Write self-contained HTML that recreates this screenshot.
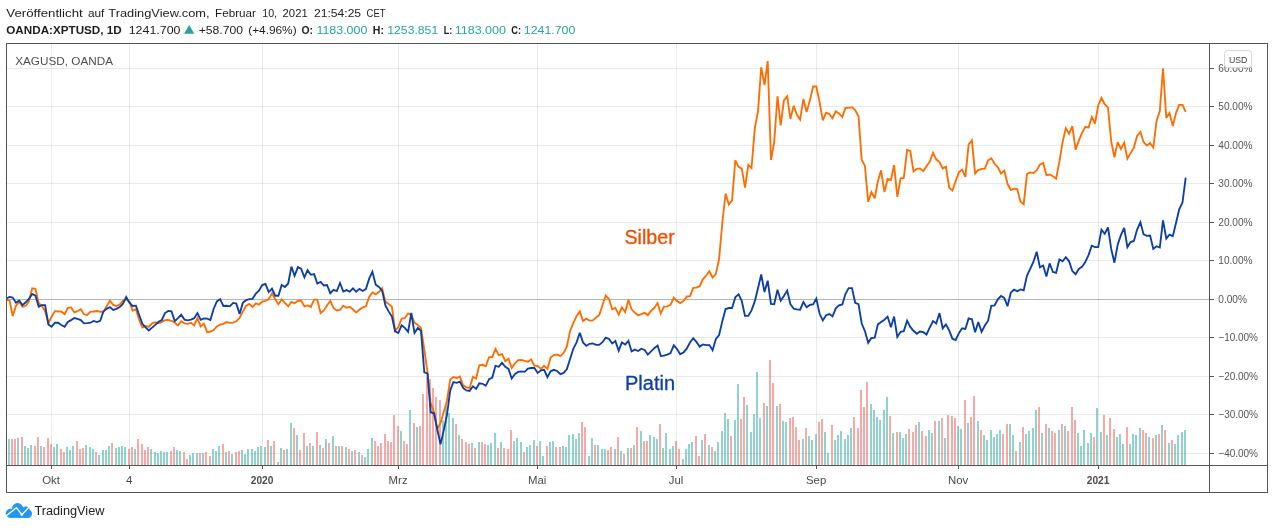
<!DOCTYPE html><html><head><meta charset="utf-8"><title>Chart</title><style>html,body{margin:0;padding:0;background:#fff}svg{display:block}text{font-family:"Liberation Sans",sans-serif}</style></head><body>
<svg width="1274" height="529" viewBox="0 0 1274 529">
<rect width="1274" height="529" fill="#fff"/>
<g shape-rendering="crispEdges">
<rect x="51" y="44" width="1" height="421" fill="#2a2e39" fill-opacity="0.1"/>
<rect x="129" y="44" width="1" height="421" fill="#2a2e39" fill-opacity="0.1"/>
<rect x="262" y="44" width="1" height="421" fill="#2a2e39" fill-opacity="0.1"/>
<rect x="398" y="44" width="1" height="421" fill="#2a2e39" fill-opacity="0.1"/>
<rect x="537" y="44" width="1" height="421" fill="#2a2e39" fill-opacity="0.1"/>
<rect x="676" y="44" width="1" height="421" fill="#2a2e39" fill-opacity="0.1"/>
<rect x="816" y="44" width="1" height="421" fill="#2a2e39" fill-opacity="0.1"/>
<rect x="958" y="44" width="1" height="421" fill="#2a2e39" fill-opacity="0.1"/>
<rect x="1098" y="44" width="1" height="421" fill="#2a2e39" fill-opacity="0.1"/>
<rect x="7" y="68" width="1202" height="1" fill="#2a2e39" fill-opacity="0.1"/>
<rect x="7" y="106" width="1202" height="1" fill="#2a2e39" fill-opacity="0.1"/>
<rect x="7" y="145" width="1202" height="1" fill="#2a2e39" fill-opacity="0.1"/>
<rect x="7" y="183" width="1202" height="1" fill="#2a2e39" fill-opacity="0.1"/>
<rect x="7" y="222" width="1202" height="1" fill="#2a2e39" fill-opacity="0.1"/>
<rect x="7" y="260" width="1202" height="1" fill="#2a2e39" fill-opacity="0.1"/>
<rect x="7" y="299" width="1202" height="1" fill="#b2b4bb"/>
<rect x="7" y="337" width="1202" height="1" fill="#2a2e39" fill-opacity="0.1"/>
<rect x="7" y="376" width="1202" height="1" fill="#2a2e39" fill-opacity="0.1"/>
<rect x="7" y="414" width="1202" height="1" fill="#2a2e39" fill-opacity="0.1"/>
<rect x="7" y="453" width="1202" height="1" fill="#2a2e39" fill-opacity="0.1"/>
</g>
<g shape-rendering="crispEdges">
<rect x="8" y="439" width="2" height="26" fill="#26a69a" fill-opacity="0.5"/>
<rect x="11" y="439" width="2" height="26" fill="#ef5350" fill-opacity="0.5"/>
<rect x="14" y="439" width="2" height="26" fill="#ef5350" fill-opacity="0.5"/>
<rect x="17" y="438" width="2" height="27" fill="#26a69a" fill-opacity="0.5"/>
<rect x="21" y="437" width="2" height="28" fill="#ef5350" fill-opacity="0.5"/>
<rect x="24" y="446" width="2" height="19" fill="#26a69a" fill-opacity="0.5"/>
<rect x="27" y="448" width="2" height="17" fill="#26a69a" fill-opacity="0.5"/>
<rect x="30" y="445" width="2" height="20" fill="#26a69a" fill-opacity="0.5"/>
<rect x="34" y="446" width="2" height="19" fill="#ef5350" fill-opacity="0.5"/>
<rect x="37" y="437" width="2" height="28" fill="#ef5350" fill-opacity="0.5"/>
<rect x="40" y="446" width="2" height="19" fill="#26a69a" fill-opacity="0.5"/>
<rect x="43" y="447" width="2" height="18" fill="#ef5350" fill-opacity="0.5"/>
<rect x="47" y="438" width="2" height="27" fill="#ef5350" fill-opacity="0.5"/>
<rect x="50" y="444" width="2" height="21" fill="#ef5350" fill-opacity="0.5"/>
<rect x="53" y="447" width="2" height="18" fill="#26a69a" fill-opacity="0.5"/>
<rect x="56" y="444" width="2" height="21" fill="#26a69a" fill-opacity="0.5"/>
<rect x="60" y="449" width="2" height="16" fill="#ef5350" fill-opacity="0.5"/>
<rect x="63" y="452" width="2" height="13" fill="#ef5350" fill-opacity="0.5"/>
<rect x="66" y="447" width="2" height="18" fill="#26a69a" fill-opacity="0.5"/>
<rect x="69" y="450" width="2" height="15" fill="#26a69a" fill-opacity="0.5"/>
<rect x="72" y="446" width="2" height="19" fill="#26a69a" fill-opacity="0.5"/>
<rect x="76" y="441" width="2" height="24" fill="#ef5350" fill-opacity="0.5"/>
<rect x="79" y="449" width="2" height="16" fill="#ef5350" fill-opacity="0.5"/>
<rect x="82" y="448" width="2" height="17" fill="#ef5350" fill-opacity="0.5"/>
<rect x="85" y="445" width="2" height="20" fill="#26a69a" fill-opacity="0.5"/>
<rect x="89" y="447" width="2" height="18" fill="#26a69a" fill-opacity="0.5"/>
<rect x="92" y="449" width="2" height="16" fill="#26a69a" fill-opacity="0.5"/>
<rect x="95" y="452" width="2" height="13" fill="#ef5350" fill-opacity="0.5"/>
<rect x="98" y="455" width="2" height="10" fill="#26a69a" fill-opacity="0.5"/>
<rect x="102" y="450" width="2" height="15" fill="#26a69a" fill-opacity="0.5"/>
<rect x="105" y="450" width="2" height="15" fill="#26a69a" fill-opacity="0.5"/>
<rect x="108" y="446" width="2" height="19" fill="#26a69a" fill-opacity="0.5"/>
<rect x="111" y="443" width="2" height="22" fill="#ef5350" fill-opacity="0.5"/>
<rect x="115" y="448" width="2" height="17" fill="#26a69a" fill-opacity="0.5"/>
<rect x="118" y="447" width="2" height="18" fill="#26a69a" fill-opacity="0.5"/>
<rect x="121" y="446" width="2" height="19" fill="#26a69a" fill-opacity="0.5"/>
<rect x="124" y="447" width="2" height="18" fill="#26a69a" fill-opacity="0.5"/>
<rect x="128" y="449" width="2" height="16" fill="#ef5350" fill-opacity="0.5"/>
<rect x="131" y="447" width="2" height="18" fill="#ef5350" fill-opacity="0.5"/>
<rect x="134" y="449" width="2" height="16" fill="#26a69a" fill-opacity="0.5"/>
<rect x="137" y="439" width="2" height="26" fill="#ef5350" fill-opacity="0.5"/>
<rect x="141" y="444" width="2" height="21" fill="#ef5350" fill-opacity="0.5"/>
<rect x="144" y="450" width="2" height="15" fill="#ef5350" fill-opacity="0.5"/>
<rect x="147" y="447" width="2" height="18" fill="#ef5350" fill-opacity="0.5"/>
<rect x="150" y="449" width="2" height="16" fill="#26a69a" fill-opacity="0.5"/>
<rect x="154" y="452" width="2" height="13" fill="#26a69a" fill-opacity="0.5"/>
<rect x="157" y="453" width="2" height="12" fill="#26a69a" fill-opacity="0.5"/>
<rect x="160" y="451" width="2" height="14" fill="#26a69a" fill-opacity="0.5"/>
<rect x="163" y="452" width="2" height="13" fill="#26a69a" fill-opacity="0.5"/>
<rect x="166" y="452" width="2" height="13" fill="#26a69a" fill-opacity="0.5"/>
<rect x="170" y="451" width="2" height="14" fill="#ef5350" fill-opacity="0.5"/>
<rect x="173" y="447" width="2" height="18" fill="#ef5350" fill-opacity="0.5"/>
<rect x="176" y="450" width="2" height="15" fill="#26a69a" fill-opacity="0.5"/>
<rect x="179" y="451" width="2" height="14" fill="#26a69a" fill-opacity="0.5"/>
<rect x="183" y="452" width="2" height="13" fill="#ef5350" fill-opacity="0.5"/>
<rect x="186" y="459" width="2" height="6" fill="#ef5350" fill-opacity="0.5"/>
<rect x="189" y="455" width="2" height="10" fill="#26a69a" fill-opacity="0.5"/>
<rect x="192" y="453" width="2" height="12" fill="#26a69a" fill-opacity="0.5"/>
<rect x="196" y="453" width="2" height="12" fill="#26a69a" fill-opacity="0.5"/>
<rect x="199" y="453" width="2" height="12" fill="#ef5350" fill-opacity="0.5"/>
<rect x="202" y="453" width="2" height="12" fill="#26a69a" fill-opacity="0.5"/>
<rect x="205" y="452" width="2" height="13" fill="#ef5350" fill-opacity="0.5"/>
<rect x="209" y="456" width="2" height="9" fill="#ef5350" fill-opacity="0.5"/>
<rect x="212" y="449" width="2" height="16" fill="#26a69a" fill-opacity="0.5"/>
<rect x="215" y="451" width="2" height="14" fill="#26a69a" fill-opacity="0.5"/>
<rect x="218" y="446" width="2" height="19" fill="#26a69a" fill-opacity="0.5"/>
<rect x="222" y="444" width="2" height="21" fill="#ef5350" fill-opacity="0.5"/>
<rect x="225" y="452" width="2" height="13" fill="#26a69a" fill-opacity="0.5"/>
<rect x="228" y="451" width="2" height="14" fill="#ef5350" fill-opacity="0.5"/>
<rect x="231" y="454" width="2" height="11" fill="#26a69a" fill-opacity="0.5"/>
<rect x="235" y="452" width="2" height="13" fill="#ef5350" fill-opacity="0.5"/>
<rect x="238" y="451" width="2" height="14" fill="#ef5350" fill-opacity="0.5"/>
<rect x="241" y="450" width="2" height="15" fill="#26a69a" fill-opacity="0.5"/>
<rect x="244" y="454" width="2" height="11" fill="#26a69a" fill-opacity="0.5"/>
<rect x="247" y="449" width="2" height="16" fill="#26a69a" fill-opacity="0.5"/>
<rect x="251" y="449" width="2" height="16" fill="#26a69a" fill-opacity="0.5"/>
<rect x="254" y="451" width="2" height="14" fill="#26a69a" fill-opacity="0.5"/>
<rect x="257" y="447" width="2" height="18" fill="#26a69a" fill-opacity="0.5"/>
<rect x="260" y="446" width="2" height="19" fill="#26a69a" fill-opacity="0.5"/>
<rect x="264" y="447" width="2" height="18" fill="#26a69a" fill-opacity="0.5"/>
<rect x="267" y="440" width="2" height="25" fill="#ef5350" fill-opacity="0.5"/>
<rect x="270" y="446" width="2" height="19" fill="#26a69a" fill-opacity="0.5"/>
<rect x="273" y="441" width="2" height="24" fill="#ef5350" fill-opacity="0.5"/>
<rect x="277" y="462" width="2" height="3" fill="#26a69a" fill-opacity="0.5"/>
<rect x="280" y="448" width="2" height="17" fill="#26a69a" fill-opacity="0.5"/>
<rect x="283" y="450" width="2" height="15" fill="#ef5350" fill-opacity="0.5"/>
<rect x="286" y="449" width="2" height="16" fill="#26a69a" fill-opacity="0.5"/>
<rect x="290" y="423" width="2" height="42" fill="#26a69a" fill-opacity="0.5"/>
<rect x="293" y="428" width="2" height="37" fill="#ef5350" fill-opacity="0.5"/>
<rect x="296" y="435" width="2" height="30" fill="#26a69a" fill-opacity="0.5"/>
<rect x="299" y="450" width="2" height="15" fill="#ef5350" fill-opacity="0.5"/>
<rect x="303" y="433" width="2" height="32" fill="#ef5350" fill-opacity="0.5"/>
<rect x="306" y="446" width="2" height="19" fill="#26a69a" fill-opacity="0.5"/>
<rect x="309" y="443" width="2" height="22" fill="#ef5350" fill-opacity="0.5"/>
<rect x="312" y="446" width="2" height="19" fill="#26a69a" fill-opacity="0.5"/>
<rect x="316" y="432" width="2" height="33" fill="#ef5350" fill-opacity="0.5"/>
<rect x="319" y="445" width="2" height="20" fill="#26a69a" fill-opacity="0.5"/>
<rect x="322" y="448" width="2" height="17" fill="#ef5350" fill-opacity="0.5"/>
<rect x="325" y="439" width="2" height="26" fill="#26a69a" fill-opacity="0.5"/>
<rect x="328" y="443" width="2" height="22" fill="#ef5350" fill-opacity="0.5"/>
<rect x="332" y="436" width="2" height="29" fill="#26a69a" fill-opacity="0.5"/>
<rect x="335" y="446" width="2" height="19" fill="#ef5350" fill-opacity="0.5"/>
<rect x="338" y="446" width="2" height="19" fill="#26a69a" fill-opacity="0.5"/>
<rect x="341" y="446" width="2" height="19" fill="#ef5350" fill-opacity="0.5"/>
<rect x="345" y="447" width="2" height="18" fill="#26a69a" fill-opacity="0.5"/>
<rect x="348" y="449" width="2" height="16" fill="#ef5350" fill-opacity="0.5"/>
<rect x="351" y="451" width="2" height="14" fill="#26a69a" fill-opacity="0.5"/>
<rect x="354" y="450" width="2" height="15" fill="#ef5350" fill-opacity="0.5"/>
<rect x="358" y="452" width="2" height="13" fill="#26a69a" fill-opacity="0.5"/>
<rect x="361" y="455" width="2" height="10" fill="#ef5350" fill-opacity="0.5"/>
<rect x="364" y="457" width="2" height="8" fill="#26a69a" fill-opacity="0.5"/>
<rect x="367" y="449" width="2" height="16" fill="#26a69a" fill-opacity="0.5"/>
<rect x="371" y="438" width="2" height="27" fill="#26a69a" fill-opacity="0.5"/>
<rect x="374" y="441" width="2" height="24" fill="#ef5350" fill-opacity="0.5"/>
<rect x="377" y="446" width="2" height="19" fill="#ef5350" fill-opacity="0.5"/>
<rect x="380" y="443" width="2" height="22" fill="#ef5350" fill-opacity="0.5"/>
<rect x="384" y="434" width="2" height="31" fill="#ef5350" fill-opacity="0.5"/>
<rect x="387" y="441" width="2" height="24" fill="#ef5350" fill-opacity="0.5"/>
<rect x="390" y="442" width="2" height="23" fill="#ef5350" fill-opacity="0.5"/>
<rect x="393" y="415" width="2" height="50" fill="#ef5350" fill-opacity="0.5"/>
<rect x="397" y="426" width="2" height="39" fill="#ef5350" fill-opacity="0.5"/>
<rect x="400" y="431" width="2" height="34" fill="#26a69a" fill-opacity="0.5"/>
<rect x="403" y="441" width="2" height="24" fill="#ef5350" fill-opacity="0.5"/>
<rect x="406" y="444" width="2" height="21" fill="#ef5350" fill-opacity="0.5"/>
<rect x="409" y="410" width="2" height="55" fill="#26a69a" fill-opacity="0.5"/>
<rect x="413" y="423" width="2" height="42" fill="#ef5350" fill-opacity="0.5"/>
<rect x="416" y="427" width="2" height="38" fill="#26a69a" fill-opacity="0.5"/>
<rect x="419" y="426" width="2" height="39" fill="#ef5350" fill-opacity="0.5"/>
<rect x="422" y="394" width="2" height="71" fill="#ef5350" fill-opacity="0.5"/>
<rect x="426" y="377" width="2" height="88" fill="#ef5350" fill-opacity="0.5"/>
<rect x="429" y="379" width="2" height="86" fill="#ef5350" fill-opacity="0.5"/>
<rect x="432" y="388" width="2" height="77" fill="#ef5350" fill-opacity="0.5"/>
<rect x="435" y="397" width="2" height="68" fill="#ef5350" fill-opacity="0.5"/>
<rect x="439" y="400" width="2" height="65" fill="#ef5350" fill-opacity="0.5"/>
<rect x="442" y="420" width="2" height="45" fill="#26a69a" fill-opacity="0.5"/>
<rect x="445" y="406" width="2" height="59" fill="#26a69a" fill-opacity="0.5"/>
<rect x="448" y="413" width="2" height="52" fill="#26a69a" fill-opacity="0.5"/>
<rect x="452" y="418" width="2" height="47" fill="#26a69a" fill-opacity="0.5"/>
<rect x="455" y="424" width="2" height="41" fill="#ef5350" fill-opacity="0.5"/>
<rect x="458" y="435" width="2" height="30" fill="#26a69a" fill-opacity="0.5"/>
<rect x="461" y="439" width="2" height="26" fill="#ef5350" fill-opacity="0.5"/>
<rect x="465" y="442" width="2" height="23" fill="#ef5350" fill-opacity="0.5"/>
<rect x="468" y="444" width="2" height="21" fill="#ef5350" fill-opacity="0.5"/>
<rect x="471" y="443" width="2" height="22" fill="#26a69a" fill-opacity="0.5"/>
<rect x="474" y="448" width="2" height="17" fill="#ef5350" fill-opacity="0.5"/>
<rect x="478" y="442" width="2" height="23" fill="#26a69a" fill-opacity="0.5"/>
<rect x="481" y="442" width="2" height="23" fill="#ef5350" fill-opacity="0.5"/>
<rect x="484" y="444" width="2" height="21" fill="#ef5350" fill-opacity="0.5"/>
<rect x="487" y="445" width="2" height="20" fill="#26a69a" fill-opacity="0.5"/>
<rect x="490" y="443" width="2" height="22" fill="#26a69a" fill-opacity="0.5"/>
<rect x="494" y="433" width="2" height="32" fill="#26a69a" fill-opacity="0.5"/>
<rect x="497" y="448" width="2" height="17" fill="#ef5350" fill-opacity="0.5"/>
<rect x="500" y="442" width="2" height="23" fill="#26a69a" fill-opacity="0.5"/>
<rect x="503" y="448" width="2" height="17" fill="#ef5350" fill-opacity="0.5"/>
<rect x="507" y="449" width="2" height="16" fill="#ef5350" fill-opacity="0.5"/>
<rect x="510" y="430" width="2" height="35" fill="#ef5350" fill-opacity="0.5"/>
<rect x="513" y="441" width="2" height="24" fill="#26a69a" fill-opacity="0.5"/>
<rect x="516" y="438" width="2" height="27" fill="#26a69a" fill-opacity="0.5"/>
<rect x="520" y="442" width="2" height="23" fill="#26a69a" fill-opacity="0.5"/>
<rect x="523" y="452" width="2" height="13" fill="#ef5350" fill-opacity="0.5"/>
<rect x="526" y="447" width="2" height="18" fill="#26a69a" fill-opacity="0.5"/>
<rect x="529" y="445" width="2" height="20" fill="#26a69a" fill-opacity="0.5"/>
<rect x="533" y="440" width="2" height="25" fill="#26a69a" fill-opacity="0.5"/>
<rect x="536" y="446" width="2" height="19" fill="#ef5350" fill-opacity="0.5"/>
<rect x="539" y="441" width="2" height="24" fill="#26a69a" fill-opacity="0.5"/>
<rect x="542" y="456" width="2" height="9" fill="#26a69a" fill-opacity="0.5"/>
<rect x="546" y="446" width="2" height="19" fill="#ef5350" fill-opacity="0.5"/>
<rect x="549" y="442" width="2" height="23" fill="#26a69a" fill-opacity="0.5"/>
<rect x="552" y="441" width="2" height="24" fill="#26a69a" fill-opacity="0.5"/>
<rect x="555" y="447" width="2" height="18" fill="#ef5350" fill-opacity="0.5"/>
<rect x="559" y="447" width="2" height="18" fill="#ef5350" fill-opacity="0.5"/>
<rect x="562" y="446" width="2" height="19" fill="#26a69a" fill-opacity="0.5"/>
<rect x="565" y="447" width="2" height="18" fill="#26a69a" fill-opacity="0.5"/>
<rect x="568" y="435" width="2" height="30" fill="#26a69a" fill-opacity="0.5"/>
<rect x="572" y="434" width="2" height="31" fill="#26a69a" fill-opacity="0.5"/>
<rect x="575" y="439" width="2" height="26" fill="#26a69a" fill-opacity="0.5"/>
<rect x="578" y="433" width="2" height="32" fill="#26a69a" fill-opacity="0.5"/>
<rect x="581" y="422" width="2" height="43" fill="#ef5350" fill-opacity="0.5"/>
<rect x="584" y="427" width="2" height="38" fill="#ef5350" fill-opacity="0.5"/>
<rect x="588" y="456" width="2" height="9" fill="#26a69a" fill-opacity="0.5"/>
<rect x="591" y="438" width="2" height="27" fill="#26a69a" fill-opacity="0.5"/>
<rect x="594" y="445" width="2" height="20" fill="#ef5350" fill-opacity="0.5"/>
<rect x="597" y="445" width="2" height="20" fill="#26a69a" fill-opacity="0.5"/>
<rect x="601" y="449" width="2" height="16" fill="#26a69a" fill-opacity="0.5"/>
<rect x="604" y="449" width="2" height="16" fill="#26a69a" fill-opacity="0.5"/>
<rect x="607" y="450" width="2" height="15" fill="#ef5350" fill-opacity="0.5"/>
<rect x="610" y="447" width="2" height="18" fill="#ef5350" fill-opacity="0.5"/>
<rect x="614" y="449" width="2" height="16" fill="#26a69a" fill-opacity="0.5"/>
<rect x="617" y="437" width="2" height="28" fill="#ef5350" fill-opacity="0.5"/>
<rect x="620" y="451" width="2" height="14" fill="#26a69a" fill-opacity="0.5"/>
<rect x="623" y="454" width="2" height="11" fill="#ef5350" fill-opacity="0.5"/>
<rect x="627" y="448" width="2" height="17" fill="#26a69a" fill-opacity="0.5"/>
<rect x="630" y="448" width="2" height="17" fill="#ef5350" fill-opacity="0.5"/>
<rect x="633" y="445" width="2" height="20" fill="#26a69a" fill-opacity="0.5"/>
<rect x="636" y="427" width="2" height="38" fill="#ef5350" fill-opacity="0.5"/>
<rect x="640" y="431" width="2" height="34" fill="#26a69a" fill-opacity="0.5"/>
<rect x="643" y="441" width="2" height="24" fill="#ef5350" fill-opacity="0.5"/>
<rect x="646" y="441" width="2" height="24" fill="#ef5350" fill-opacity="0.5"/>
<rect x="649" y="435" width="2" height="30" fill="#26a69a" fill-opacity="0.5"/>
<rect x="653" y="437" width="2" height="28" fill="#26a69a" fill-opacity="0.5"/>
<rect x="656" y="439" width="2" height="26" fill="#26a69a" fill-opacity="0.5"/>
<rect x="659" y="424" width="2" height="41" fill="#ef5350" fill-opacity="0.5"/>
<rect x="662" y="448" width="2" height="17" fill="#26a69a" fill-opacity="0.5"/>
<rect x="665" y="433" width="2" height="32" fill="#26a69a" fill-opacity="0.5"/>
<rect x="669" y="449" width="2" height="16" fill="#26a69a" fill-opacity="0.5"/>
<rect x="672" y="446" width="2" height="19" fill="#26a69a" fill-opacity="0.5"/>
<rect x="675" y="441" width="2" height="24" fill="#ef5350" fill-opacity="0.5"/>
<rect x="678" y="449" width="2" height="16" fill="#ef5350" fill-opacity="0.5"/>
<rect x="682" y="459" width="2" height="6" fill="#26a69a" fill-opacity="0.5"/>
<rect x="685" y="449" width="2" height="16" fill="#26a69a" fill-opacity="0.5"/>
<rect x="688" y="444" width="2" height="21" fill="#26a69a" fill-opacity="0.5"/>
<rect x="691" y="442" width="2" height="23" fill="#26a69a" fill-opacity="0.5"/>
<rect x="695" y="436" width="2" height="29" fill="#ef5350" fill-opacity="0.5"/>
<rect x="698" y="456" width="2" height="9" fill="#ef5350" fill-opacity="0.5"/>
<rect x="701" y="440" width="2" height="25" fill="#26a69a" fill-opacity="0.5"/>
<rect x="704" y="434" width="2" height="31" fill="#ef5350" fill-opacity="0.5"/>
<rect x="708" y="445" width="2" height="20" fill="#26a69a" fill-opacity="0.5"/>
<rect x="711" y="447" width="2" height="18" fill="#ef5350" fill-opacity="0.5"/>
<rect x="714" y="451" width="2" height="14" fill="#26a69a" fill-opacity="0.5"/>
<rect x="717" y="442" width="2" height="23" fill="#26a69a" fill-opacity="0.5"/>
<rect x="721" y="431" width="2" height="34" fill="#26a69a" fill-opacity="0.5"/>
<rect x="724" y="413" width="2" height="52" fill="#26a69a" fill-opacity="0.5"/>
<rect x="727" y="419" width="2" height="46" fill="#26a69a" fill-opacity="0.5"/>
<rect x="730" y="436" width="2" height="29" fill="#ef5350" fill-opacity="0.5"/>
<rect x="734" y="420" width="2" height="45" fill="#26a69a" fill-opacity="0.5"/>
<rect x="737" y="384" width="2" height="81" fill="#26a69a" fill-opacity="0.5"/>
<rect x="740" y="419" width="2" height="46" fill="#ef5350" fill-opacity="0.5"/>
<rect x="743" y="397" width="2" height="68" fill="#ef5350" fill-opacity="0.5"/>
<rect x="746" y="405" width="2" height="60" fill="#26a69a" fill-opacity="0.5"/>
<rect x="750" y="432" width="2" height="33" fill="#26a69a" fill-opacity="0.5"/>
<rect x="753" y="414" width="2" height="51" fill="#26a69a" fill-opacity="0.5"/>
<rect x="756" y="372" width="2" height="93" fill="#26a69a" fill-opacity="0.5"/>
<rect x="759" y="418" width="2" height="47" fill="#26a69a" fill-opacity="0.5"/>
<rect x="763" y="403" width="2" height="62" fill="#ef5350" fill-opacity="0.5"/>
<rect x="766" y="406" width="2" height="59" fill="#26a69a" fill-opacity="0.5"/>
<rect x="769" y="360" width="2" height="105" fill="#ef5350" fill-opacity="0.5"/>
<rect x="772" y="383" width="2" height="82" fill="#ef5350" fill-opacity="0.5"/>
<rect x="776" y="406" width="2" height="59" fill="#26a69a" fill-opacity="0.5"/>
<rect x="779" y="404" width="2" height="61" fill="#ef5350" fill-opacity="0.5"/>
<rect x="782" y="421" width="2" height="44" fill="#26a69a" fill-opacity="0.5"/>
<rect x="785" y="422" width="2" height="43" fill="#26a69a" fill-opacity="0.5"/>
<rect x="789" y="418" width="2" height="47" fill="#ef5350" fill-opacity="0.5"/>
<rect x="792" y="417" width="2" height="48" fill="#ef5350" fill-opacity="0.5"/>
<rect x="795" y="427" width="2" height="38" fill="#ef5350" fill-opacity="0.5"/>
<rect x="798" y="440" width="2" height="25" fill="#ef5350" fill-opacity="0.5"/>
<rect x="802" y="439" width="2" height="26" fill="#26a69a" fill-opacity="0.5"/>
<rect x="805" y="428" width="2" height="37" fill="#ef5350" fill-opacity="0.5"/>
<rect x="808" y="436" width="2" height="29" fill="#26a69a" fill-opacity="0.5"/>
<rect x="811" y="440" width="2" height="25" fill="#26a69a" fill-opacity="0.5"/>
<rect x="815" y="434" width="2" height="31" fill="#26a69a" fill-opacity="0.5"/>
<rect x="818" y="422" width="2" height="43" fill="#ef5350" fill-opacity="0.5"/>
<rect x="821" y="419" width="2" height="46" fill="#ef5350" fill-opacity="0.5"/>
<rect x="824" y="432" width="2" height="33" fill="#26a69a" fill-opacity="0.5"/>
<rect x="827" y="453" width="2" height="12" fill="#26a69a" fill-opacity="0.5"/>
<rect x="831" y="425" width="2" height="40" fill="#ef5350" fill-opacity="0.5"/>
<rect x="834" y="440" width="2" height="25" fill="#26a69a" fill-opacity="0.5"/>
<rect x="837" y="435" width="2" height="30" fill="#26a69a" fill-opacity="0.5"/>
<rect x="840" y="431" width="2" height="34" fill="#26a69a" fill-opacity="0.5"/>
<rect x="844" y="439" width="2" height="26" fill="#26a69a" fill-opacity="0.5"/>
<rect x="847" y="435" width="2" height="30" fill="#26a69a" fill-opacity="0.5"/>
<rect x="850" y="428" width="2" height="37" fill="#26a69a" fill-opacity="0.5"/>
<rect x="853" y="417" width="2" height="48" fill="#ef5350" fill-opacity="0.5"/>
<rect x="857" y="428" width="2" height="37" fill="#ef5350" fill-opacity="0.5"/>
<rect x="860" y="390" width="2" height="75" fill="#ef5350" fill-opacity="0.5"/>
<rect x="863" y="407" width="2" height="58" fill="#ef5350" fill-opacity="0.5"/>
<rect x="866" y="382" width="2" height="83" fill="#ef5350" fill-opacity="0.5"/>
<rect x="870" y="404" width="2" height="61" fill="#26a69a" fill-opacity="0.5"/>
<rect x="873" y="410" width="2" height="55" fill="#26a69a" fill-opacity="0.5"/>
<rect x="876" y="417" width="2" height="48" fill="#26a69a" fill-opacity="0.5"/>
<rect x="879" y="420" width="2" height="45" fill="#26a69a" fill-opacity="0.5"/>
<rect x="883" y="410" width="2" height="55" fill="#26a69a" fill-opacity="0.5"/>
<rect x="886" y="397" width="2" height="68" fill="#26a69a" fill-opacity="0.5"/>
<rect x="889" y="416" width="2" height="49" fill="#ef5350" fill-opacity="0.5"/>
<rect x="892" y="433" width="2" height="32" fill="#26a69a" fill-opacity="0.5"/>
<rect x="896" y="432" width="2" height="33" fill="#ef5350" fill-opacity="0.5"/>
<rect x="899" y="432" width="2" height="33" fill="#26a69a" fill-opacity="0.5"/>
<rect x="902" y="438" width="2" height="27" fill="#26a69a" fill-opacity="0.5"/>
<rect x="905" y="434" width="2" height="31" fill="#26a69a" fill-opacity="0.5"/>
<rect x="908" y="429" width="2" height="36" fill="#ef5350" fill-opacity="0.5"/>
<rect x="912" y="432" width="2" height="33" fill="#ef5350" fill-opacity="0.5"/>
<rect x="915" y="425" width="2" height="40" fill="#ef5350" fill-opacity="0.5"/>
<rect x="918" y="422" width="2" height="43" fill="#26a69a" fill-opacity="0.5"/>
<rect x="921" y="431" width="2" height="34" fill="#ef5350" fill-opacity="0.5"/>
<rect x="925" y="436" width="2" height="29" fill="#ef5350" fill-opacity="0.5"/>
<rect x="928" y="430" width="2" height="35" fill="#26a69a" fill-opacity="0.5"/>
<rect x="931" y="433" width="2" height="32" fill="#26a69a" fill-opacity="0.5"/>
<rect x="934" y="421" width="2" height="44" fill="#ef5350" fill-opacity="0.5"/>
<rect x="938" y="421" width="2" height="44" fill="#26a69a" fill-opacity="0.5"/>
<rect x="941" y="418" width="2" height="47" fill="#ef5350" fill-opacity="0.5"/>
<rect x="944" y="438" width="2" height="27" fill="#26a69a" fill-opacity="0.5"/>
<rect x="947" y="415" width="2" height="50" fill="#ef5350" fill-opacity="0.5"/>
<rect x="951" y="416" width="2" height="49" fill="#ef5350" fill-opacity="0.5"/>
<rect x="954" y="418" width="2" height="47" fill="#ef5350" fill-opacity="0.5"/>
<rect x="957" y="426" width="2" height="39" fill="#26a69a" fill-opacity="0.5"/>
<rect x="960" y="429" width="2" height="36" fill="#26a69a" fill-opacity="0.5"/>
<rect x="964" y="400" width="2" height="65" fill="#ef5350" fill-opacity="0.5"/>
<rect x="967" y="423" width="2" height="42" fill="#26a69a" fill-opacity="0.5"/>
<rect x="970" y="417" width="2" height="48" fill="#ef5350" fill-opacity="0.5"/>
<rect x="973" y="396" width="2" height="69" fill="#ef5350" fill-opacity="0.5"/>
<rect x="977" y="421" width="2" height="44" fill="#26a69a" fill-opacity="0.5"/>
<rect x="980" y="430" width="2" height="35" fill="#ef5350" fill-opacity="0.5"/>
<rect x="983" y="435" width="2" height="30" fill="#26a69a" fill-opacity="0.5"/>
<rect x="986" y="440" width="2" height="25" fill="#26a69a" fill-opacity="0.5"/>
<rect x="990" y="430" width="2" height="35" fill="#26a69a" fill-opacity="0.5"/>
<rect x="993" y="437" width="2" height="28" fill="#26a69a" fill-opacity="0.5"/>
<rect x="996" y="434" width="2" height="31" fill="#26a69a" fill-opacity="0.5"/>
<rect x="999" y="430" width="2" height="35" fill="#26a69a" fill-opacity="0.5"/>
<rect x="1002" y="434" width="2" height="31" fill="#ef5350" fill-opacity="0.5"/>
<rect x="1006" y="424" width="2" height="41" fill="#ef5350" fill-opacity="0.5"/>
<rect x="1009" y="424" width="2" height="41" fill="#26a69a" fill-opacity="0.5"/>
<rect x="1012" y="435" width="2" height="30" fill="#26a69a" fill-opacity="0.5"/>
<rect x="1015" y="451" width="2" height="14" fill="#ef5350" fill-opacity="0.5"/>
<rect x="1019" y="442" width="2" height="23" fill="#26a69a" fill-opacity="0.5"/>
<rect x="1022" y="427" width="2" height="38" fill="#ef5350" fill-opacity="0.5"/>
<rect x="1025" y="434" width="2" height="31" fill="#26a69a" fill-opacity="0.5"/>
<rect x="1028" y="431" width="2" height="34" fill="#26a69a" fill-opacity="0.5"/>
<rect x="1032" y="428" width="2" height="37" fill="#26a69a" fill-opacity="0.5"/>
<rect x="1035" y="410" width="2" height="55" fill="#26a69a" fill-opacity="0.5"/>
<rect x="1038" y="407" width="2" height="58" fill="#ef5350" fill-opacity="0.5"/>
<rect x="1041" y="433" width="2" height="32" fill="#26a69a" fill-opacity="0.5"/>
<rect x="1045" y="424" width="2" height="41" fill="#ef5350" fill-opacity="0.5"/>
<rect x="1048" y="428" width="2" height="37" fill="#26a69a" fill-opacity="0.5"/>
<rect x="1051" y="431" width="2" height="34" fill="#ef5350" fill-opacity="0.5"/>
<rect x="1054" y="433" width="2" height="32" fill="#ef5350" fill-opacity="0.5"/>
<rect x="1058" y="430" width="2" height="35" fill="#26a69a" fill-opacity="0.5"/>
<rect x="1061" y="424" width="2" height="41" fill="#ef5350" fill-opacity="0.5"/>
<rect x="1064" y="426" width="2" height="39" fill="#26a69a" fill-opacity="0.5"/>
<rect x="1067" y="431" width="2" height="34" fill="#ef5350" fill-opacity="0.5"/>
<rect x="1071" y="407" width="2" height="58" fill="#ef5350" fill-opacity="0.5"/>
<rect x="1074" y="420" width="2" height="45" fill="#ef5350" fill-opacity="0.5"/>
<rect x="1077" y="433" width="2" height="32" fill="#26a69a" fill-opacity="0.5"/>
<rect x="1080" y="446" width="2" height="19" fill="#26a69a" fill-opacity="0.5"/>
<rect x="1083" y="430" width="2" height="35" fill="#26a69a" fill-opacity="0.5"/>
<rect x="1087" y="443" width="2" height="22" fill="#26a69a" fill-opacity="0.5"/>
<rect x="1090" y="433" width="2" height="32" fill="#26a69a" fill-opacity="0.5"/>
<rect x="1093" y="437" width="2" height="28" fill="#ef5350" fill-opacity="0.5"/>
<rect x="1096" y="408" width="2" height="57" fill="#26a69a" fill-opacity="0.5"/>
<rect x="1100" y="432" width="2" height="33" fill="#26a69a" fill-opacity="0.5"/>
<rect x="1103" y="415" width="2" height="50" fill="#ef5350" fill-opacity="0.5"/>
<rect x="1106" y="435" width="2" height="30" fill="#26a69a" fill-opacity="0.5"/>
<rect x="1109" y="418" width="2" height="47" fill="#ef5350" fill-opacity="0.5"/>
<rect x="1113" y="429" width="2" height="36" fill="#ef5350" fill-opacity="0.5"/>
<rect x="1116" y="437" width="2" height="28" fill="#26a69a" fill-opacity="0.5"/>
<rect x="1119" y="434" width="2" height="31" fill="#26a69a" fill-opacity="0.5"/>
<rect x="1122" y="444" width="2" height="21" fill="#26a69a" fill-opacity="0.5"/>
<rect x="1126" y="427" width="2" height="38" fill="#ef5350" fill-opacity="0.5"/>
<rect x="1129" y="444" width="2" height="21" fill="#26a69a" fill-opacity="0.5"/>
<rect x="1132" y="434" width="2" height="31" fill="#26a69a" fill-opacity="0.5"/>
<rect x="1135" y="435" width="2" height="30" fill="#26a69a" fill-opacity="0.5"/>
<rect x="1139" y="428" width="2" height="37" fill="#26a69a" fill-opacity="0.5"/>
<rect x="1142" y="430" width="2" height="35" fill="#ef5350" fill-opacity="0.5"/>
<rect x="1145" y="433" width="2" height="32" fill="#ef5350" fill-opacity="0.5"/>
<rect x="1148" y="437" width="2" height="28" fill="#26a69a" fill-opacity="0.5"/>
<rect x="1152" y="438" width="2" height="27" fill="#ef5350" fill-opacity="0.5"/>
<rect x="1155" y="435" width="2" height="30" fill="#26a69a" fill-opacity="0.5"/>
<rect x="1158" y="434" width="2" height="31" fill="#ef5350" fill-opacity="0.5"/>
<rect x="1161" y="425" width="2" height="40" fill="#26a69a" fill-opacity="0.5"/>
<rect x="1164" y="430" width="2" height="35" fill="#ef5350" fill-opacity="0.5"/>
<rect x="1168" y="443" width="2" height="22" fill="#26a69a" fill-opacity="0.5"/>
<rect x="1171" y="440" width="2" height="25" fill="#ef5350" fill-opacity="0.5"/>
<rect x="1174" y="444" width="2" height="21" fill="#26a69a" fill-opacity="0.5"/>
<rect x="1177" y="435" width="2" height="30" fill="#26a69a" fill-opacity="0.5"/>
<rect x="1181" y="432" width="2" height="33" fill="#26a69a" fill-opacity="0.5"/>
<rect x="1184" y="430" width="2" height="35" fill="#26a69a" fill-opacity="0.5"/>
</g>
<path d="M6.5,300.0 L9.5,300.3 L12.7,316.0 L16.0,305.6 L19.2,301.7 L22.5,306.8 L25.7,305.8 L28.9,301.5 L32.2,288.2 L35.4,288.8 L38.7,303.3 L41.9,305.8 L45.1,311.2 L48.4,323.1 L51.6,316.8 L54.9,311.2 L58.1,311.5 L61.3,311.5 L64.6,314.3 L67.8,307.8 L71.1,307.4 L74.3,312.4 L77.5,311.2 L80.8,309.2 L84.0,314.3 L87.3,315.0 L90.5,311.7 L93.7,311.5 L97.0,311.0 L100.2,311.7 L103.5,311.7 L106.7,306.1 L109.9,300.7 L113.2,304.9 L116.4,306.1 L119.7,304.6 L122.9,300.8 L126.2,299.4 L129.4,301.4 L132.6,310.6 L135.9,309.3 L139.1,319.8 L142.4,327.4 L145.6,325.9 L148.8,326.9 L152.1,323.3 L155.3,322.3 L158.6,323.3 L161.8,321.8 L165.0,320.1 L168.3,320.0 L171.5,320.8 L174.8,322.8 L178.0,325.4 L181.2,321.3 L184.5,323.3 L187.7,323.8 L191.0,322.8 L194.2,325.4 L197.4,318.2 L200.7,326.4 L203.9,323.8 L207.2,332.2 L210.4,331.5 L213.6,330.0 L216.9,326.4 L220.1,324.7 L223.4,323.8 L226.6,322.0 L229.8,322.8 L233.1,322.6 L236.3,321.3 L239.6,317.9 L242.8,311.6 L246.0,305.9 L249.3,303.9 L252.5,306.9 L255.8,303.4 L259.0,304.7 L262.2,301.6 L265.5,300.8 L268.7,299.3 L272.0,293.2 L275.2,299.3 L278.4,304.4 L281.7,299.3 L284.9,302.9 L288.2,306.4 L291.4,301.8 L294.6,303.1 L297.9,301.0 L301.1,300.6 L304.4,306.4 L307.6,305.4 L310.8,306.9 L314.1,299.6 L317.3,299.6 L320.6,313.1 L323.8,310.5 L327.0,305.4 L330.3,300.8 L333.5,308.0 L336.8,310.5 L340.0,310.0 L343.3,305.7 L346.5,307.8 L349.7,306.7 L353.0,309.5 L356.2,312.6 L359.5,309.6 L362.7,307.4 L365.9,306.3 L369.2,297.0 L372.4,292.4 L375.7,294.4 L378.9,292.1 L382.1,288.3 L385.4,301.6 L388.6,303.9 L391.9,306.8 L395.1,330.7 L398.3,327.3 L401.6,318.5 L404.8,318.2 L408.1,313.4 L411.3,314.8 L414.5,322.7 L417.8,325.0 L421.0,327.9 L424.3,349.5 L427.5,372.4 L430.7,403.0 L434.0,412.0 L437.2,429.0 L440.5,423.0 L443.7,412.2 L446.9,401.0 L450.2,379.7 L453.4,377.1 L456.7,378.0 L459.9,376.6 L463.1,385.3 L466.4,387.3 L469.6,388.2 L472.9,376.9 L476.1,378.4 L479.3,365.3 L482.6,364.8 L485.8,366.3 L489.1,357.1 L492.3,357.1 L495.5,349.0 L498.8,355.1 L502.0,354.1 L505.3,361.2 L508.5,358.7 L511.7,367.9 L515.0,363.3 L518.2,360.2 L521.5,359.9 L524.7,360.9 L527.9,361.7 L531.2,359.3 L534.4,365.8 L537.7,365.9 L540.9,369.0 L544.1,365.9 L547.4,369.0 L550.6,357.6 L553.9,355.1 L557.1,354.5 L560.4,356.1 L563.6,352.9 L566.8,346.7 L570.1,330.9 L573.3,323.1 L576.6,316.2 L579.8,311.4 L583.0,321.1 L586.3,318.7 L589.5,320.6 L592.8,320.4 L596.0,317.6 L599.2,315.1 L602.5,305.2 L605.7,295.5 L609.0,299.0 L612.2,309.3 L615.4,307.9 L618.7,314.6 L621.9,307.3 L625.2,312.1 L628.4,299.7 L631.6,309.3 L634.9,312.8 L638.1,315.3 L641.4,314.2 L644.6,312.8 L647.8,315.1 L651.1,310.7 L654.3,307.9 L657.6,303.1 L660.8,313.5 L664.0,306.6 L667.3,306.3 L670.5,304.9 L673.8,297.6 L677.0,301.0 L680.2,303.1 L683.5,301.0 L686.7,296.6 L690.0,296.2 L693.2,287.8 L696.4,287.6 L699.7,286.2 L702.9,279.3 L706.2,275.5 L709.4,271.3 L712.6,277.7 L715.9,273.8 L719.1,258.8 L722.4,222.0 L725.6,193.5 L728.8,204.5 L732.1,200.4 L735.3,160.3 L738.6,166.9 L741.8,168.6 L745.0,187.6 L748.3,164.9 L751.5,168.0 L754.8,128.3 L758.0,111.3 L761.2,67.2 L764.5,85.1 L767.7,61.0 L771.0,160.0 L774.2,142.1 L777.5,96.2 L780.7,125.3 L783.9,100.3 L787.2,96.2 L790.4,118.9 L793.7,105.8 L796.9,114.8 L800.1,119.6 L803.4,98.9 L806.6,112.0 L809.9,100.3 L813.1,86.5 L816.3,86.5 L819.6,102.4 L822.8,120.3 L826.1,112.7 L829.3,114.1 L832.5,118.2 L835.8,111.3 L839.0,113.4 L842.3,116.9 L845.5,107.9 L848.7,107.9 L852.0,107.2 L855.2,110.0 L858.5,116.2 L861.7,159.8 L864.9,165.9 L868.2,201.8 L871.4,192.1 L874.7,198.3 L877.9,181.1 L881.1,170.3 L884.4,192.1 L887.6,179.0 L890.9,180.0 L894.1,165.2 L897.3,196.9 L900.6,178.3 L903.8,178.0 L907.1,150.0 L910.3,151.0 L913.5,171.4 L916.8,168.9 L920.0,168.4 L923.3,171.1 L926.5,166.2 L929.7,161.7 L933.0,152.8 L936.2,159.3 L939.5,162.0 L942.7,168.4 L945.9,166.6 L949.2,187.7 L952.4,190.4 L955.7,181.1 L958.9,172.1 L962.1,169.7 L965.4,176.9 L968.6,144.5 L971.9,140.4 L975.1,173.5 L978.3,170.0 L981.6,168.9 L984.8,168.6 L988.1,160.4 L991.3,158.3 L994.6,163.8 L997.8,167.3 L1001.0,173.5 L1004.3,170.7 L1007.5,183.8 L1010.8,190.0 L1014.0,188.7 L1017.2,189.1 L1020.5,201.8 L1023.7,204.2 L1027.0,173.8 L1030.2,172.4 L1033.4,173.1 L1036.7,170.4 L1039.9,164.6 L1043.2,162.8 L1046.4,175.2 L1049.6,174.5 L1052.9,176.2 L1056.1,178.6 L1059.4,161.4 L1062.6,142.1 L1065.8,128.3 L1069.1,133.8 L1072.3,126.2 L1075.6,149.7 L1078.8,140.7 L1082.0,133.0 L1085.3,126.9 L1088.5,127.6 L1091.8,116.9 L1095.0,123.5 L1098.2,105.5 L1101.5,98.0 L1104.7,104.2 L1108.0,107.6 L1111.2,141.4 L1114.4,157.3 L1117.7,142.1 L1120.9,149.0 L1124.2,142.8 L1127.4,158.6 L1130.6,153.1 L1133.9,147.6 L1137.1,136.0 L1140.4,132.0 L1143.6,142.1 L1146.8,145.5 L1150.1,143.0 L1153.3,147.6 L1156.6,120.7 L1159.8,111.1 L1163.0,68.3 L1166.3,118.0 L1169.5,113.1 L1172.8,126.0 L1176.0,113.1 L1179.2,104.9 L1182.5,104.9 L1185.7,111.8" fill="none" stroke="#ff6d00" stroke-width="1.85" stroke-linejoin="miter" stroke-miterlimit="3"/>
<path d="M6.5,298.5 L9.5,296.9 L12.7,297.6 L16.0,302.7 L19.2,300.5 L22.5,305.1 L25.7,302.3 L28.9,299.0 L32.2,293.9 L35.4,295.6 L38.7,306.6 L41.9,305.1 L45.1,305.1 L48.4,324.5 L51.6,326.8 L54.9,322.7 L58.1,322.7 L61.3,325.0 L64.6,326.7 L67.8,321.9 L71.1,320.1 L74.3,318.0 L77.5,318.9 L80.8,320.1 L84.0,323.4 L87.3,323.1 L90.5,322.7 L93.7,320.9 L97.0,322.1 L100.2,320.9 L103.5,311.2 L106.7,308.7 L109.9,307.1 L113.2,309.9 L116.4,308.9 L119.7,307.1 L122.9,304.0 L126.2,297.1 L129.4,302.7 L132.6,306.0 L135.9,305.7 L139.1,314.7 L142.4,323.8 L145.6,327.4 L148.8,330.5 L152.1,327.6 L155.3,324.9 L158.6,321.8 L161.8,320.0 L165.0,313.1 L168.3,310.9 L171.5,311.4 L174.8,321.1 L178.0,318.2 L181.2,314.7 L184.5,319.6 L187.7,320.3 L191.0,319.6 L194.2,318.2 L197.4,313.1 L200.7,319.8 L203.9,318.4 L207.2,318.7 L210.4,320.0 L213.6,309.0 L216.9,301.4 L220.1,299.1 L223.4,306.0 L226.6,305.8 L229.8,306.3 L233.1,302.9 L236.3,303.6 L239.6,313.9 L242.8,302.9 L246.0,300.2 L249.3,299.2 L252.5,298.8 L255.8,293.7 L259.0,290.6 L262.2,285.0 L265.5,284.0 L268.7,292.1 L272.0,288.6 L275.2,295.7 L278.4,295.7 L281.7,285.0 L284.9,287.0 L288.2,283.5 L291.4,266.6 L294.6,275.8 L297.9,267.1 L301.1,268.7 L304.4,277.3 L307.6,270.2 L310.8,274.8 L314.1,274.1 L317.3,283.5 L320.6,281.9 L323.8,285.5 L327.0,285.0 L330.3,293.2 L333.5,289.8 L336.8,291.1 L340.0,283.0 L343.3,291.6 L346.5,290.1 L349.7,291.6 L353.0,288.4 L356.2,291.8 L359.5,288.9 L362.7,291.0 L365.9,289.1 L369.2,278.6 L372.4,271.7 L375.7,284.7 L378.9,287.0 L382.1,290.6 L385.4,305.4 L388.6,311.4 L391.9,316.5 L395.1,331.3 L398.3,333.0 L401.6,325.3 L404.8,327.9 L408.1,331.8 L411.3,312.8 L414.5,333.0 L417.8,327.9 L421.0,330.7 L424.3,372.4 L427.5,373.5 L430.7,412.2 L434.0,413.3 L437.2,428.8 L440.5,444.4 L443.7,430.6 L446.9,415.3 L450.2,390.6 L453.4,382.0 L456.7,382.8 L459.9,381.7 L463.1,387.9 L466.4,390.4 L469.6,390.9 L472.9,386.3 L476.1,388.9 L479.3,383.3 L482.6,383.8 L485.8,385.8 L489.1,379.2 L492.3,377.6 L495.5,365.8 L498.8,366.8 L502.0,362.8 L505.3,366.8 L508.5,368.9 L511.7,378.6 L515.0,374.0 L518.2,371.9 L521.5,371.4 L524.7,371.8 L527.9,368.7 L531.2,368.0 L534.4,367.9 L537.7,372.9 L540.9,370.3 L544.1,369.8 L547.4,377.1 L550.6,371.3 L553.9,369.8 L557.1,371.0 L560.4,374.1 L563.6,372.9 L566.8,369.3 L570.1,359.0 L573.3,348.8 L576.6,342.3 L579.8,332.8 L583.0,342.4 L586.3,345.9 L589.5,343.8 L592.8,343.5 L596.0,344.9 L599.2,344.9 L602.5,342.2 L605.7,337.6 L609.0,339.0 L612.2,343.5 L615.4,341.1 L618.7,350.7 L621.9,342.4 L625.2,344.5 L628.4,340.8 L631.6,351.4 L634.9,349.6 L638.1,351.0 L641.4,348.7 L644.6,350.0 L647.8,354.6 L651.1,351.4 L654.3,348.2 L657.6,345.5 L660.8,356.0 L664.0,355.6 L667.3,354.6 L670.5,353.0 L673.8,345.3 L677.0,349.0 L680.2,354.2 L683.5,352.4 L686.7,348.7 L690.0,342.5 L693.2,338.3 L696.4,341.9 L699.7,346.6 L702.9,344.4 L706.2,345.1 L709.4,345.1 L712.6,350.2 L715.9,339.0 L719.1,335.0 L722.4,320.9 L725.6,309.0 L728.8,308.0 L732.1,308.0 L735.3,297.3 L738.6,294.2 L741.8,301.1 L745.0,315.9 L748.3,315.9 L751.5,310.4 L754.8,301.4 L758.0,288.3 L761.2,274.5 L764.5,292.0 L767.7,280.7 L771.0,303.9 L774.2,304.2 L777.5,289.7 L780.7,300.7 L783.9,295.9 L787.2,290.6 L790.4,304.2 L793.7,308.6 L796.9,309.4 L800.1,309.7 L803.4,302.1 L806.6,307.2 L809.9,304.9 L813.1,304.4 L816.3,298.6 L819.6,313.8 L822.8,320.4 L826.1,315.2 L829.3,314.1 L832.5,316.3 L835.8,308.3 L839.0,305.3 L842.3,304.4 L845.5,293.8 L848.7,288.1 L852.0,288.1 L855.2,302.8 L858.5,304.2 L861.7,323.5 L864.9,331.1 L868.2,342.8 L871.4,338.0 L874.7,337.7 L877.9,324.4 L881.1,322.1 L884.4,319.7 L887.6,316.6 L890.9,327.2 L894.1,316.6 L897.3,336.9 L900.6,331.8 L903.8,331.1 L907.1,320.7 L910.3,326.9 L913.5,330.8 L916.8,333.8 L920.0,331.5 L923.3,332.2 L926.5,334.5 L929.7,327.6 L933.0,321.1 L936.2,323.5 L939.5,313.1 L942.7,328.3 L945.9,324.4 L949.2,330.4 L952.4,338.7 L955.7,340.0 L958.9,333.1 L962.1,328.3 L965.4,329.0 L968.6,318.4 L971.9,319.3 L975.1,332.2 L978.3,322.1 L981.6,331.8 L984.8,325.5 L988.1,320.7 L991.3,305.9 L994.6,305.5 L997.8,299.3 L1001.0,295.9 L1004.3,297.9 L1007.5,306.2 L1010.8,292.7 L1014.0,289.6 L1017.2,291.2 L1020.5,289.4 L1023.7,290.3 L1027.0,275.5 L1030.2,268.9 L1033.4,262.0 L1036.7,251.7 L1039.9,267.3 L1043.2,265.5 L1046.4,276.5 L1049.6,263.4 L1052.9,272.0 L1056.1,272.8 L1059.4,259.5 L1062.6,261.3 L1065.8,257.2 L1069.1,261.3 L1072.3,271.0 L1075.6,274.2 L1078.8,268.9 L1082.0,266.9 L1085.3,262.0 L1088.5,255.1 L1091.8,245.7 L1095.0,247.1 L1098.2,247.1 L1101.5,229.6 L1104.7,233.7 L1108.0,227.5 L1111.2,248.9 L1114.4,262.7 L1117.7,244.8 L1120.9,235.1 L1124.2,227.8 L1127.4,247.1 L1130.6,242.0 L1133.9,241.0 L1137.1,229.6 L1140.4,222.3 L1143.6,234.4 L1146.8,235.8 L1150.1,235.5 L1153.3,248.9 L1156.6,246.2 L1159.8,247.5 L1163.0,220.3 L1166.3,238.6 L1169.5,234.7 L1172.8,236.1 L1176.0,223.0 L1179.2,209.3 L1182.5,202.6 L1185.7,177.6" fill="none" stroke="#0c3fa5" stroke-width="1.85" stroke-linejoin="miter" stroke-miterlimit="3"/>
<rect x="623.5" y="224" width="52.5" height="24" fill="#fff" opacity="0.65"/>
<text x="624.5" y="244.4" font-size="19.6" fill="#f04e00" stroke="#f04e00" stroke-width="0.3" textLength="50.3" lengthAdjust="spacingAndGlyphs">Silber</text>
<rect x="623.5" y="368" width="52.5" height="24" fill="#fff" opacity="0.65"/>
<text x="625" y="389.6" font-size="19.6" fill="#0c3fa5" stroke="#0c3fa5" stroke-width="0.3" textLength="50" lengthAdjust="spacingAndGlyphs">Platin</text>
<g shape-rendering="crispEdges" fill="#555">
<rect x="6" y="43" width="1262" height="1"/>
<rect x="6" y="492" width="1262" height="1"/>
<rect x="6" y="43" width="1" height="450"/>
<rect x="1267" y="43" width="1" height="450"/>
<rect x="1209" y="43" width="1" height="450"/>
<rect x="6" y="465" width="1262" height="1"/>
<rect x="1210" y="68" width="4" height="1"/>
<rect x="1210" y="106" width="4" height="1"/>
<rect x="1210" y="145" width="4" height="1"/>
<rect x="1210" y="183" width="4" height="1"/>
<rect x="1210" y="222" width="4" height="1"/>
<rect x="1210" y="260" width="4" height="1"/>
<rect x="1210" y="299" width="4" height="1"/>
<rect x="1210" y="337" width="4" height="1"/>
<rect x="1210" y="376" width="4" height="1"/>
<rect x="1210" y="414" width="4" height="1"/>
<rect x="1210" y="453" width="4" height="1"/>
<rect x="51" y="466" width="1" height="3"/>
<rect x="129" y="466" width="1" height="3"/>
<rect x="262" y="466" width="1" height="3"/>
<rect x="398" y="466" width="1" height="3"/>
<rect x="537" y="466" width="1" height="3"/>
<rect x="676" y="466" width="1" height="3"/>
<rect x="816" y="466" width="1" height="3"/>
<rect x="958" y="466" width="1" height="3"/>
<rect x="1098" y="466" width="1" height="3"/>
</g>
<text x="1218.3" y="72.0" font-size="10.7" fill="#555" textLength="34.3" lengthAdjust="spacingAndGlyphs">60.00%</text>
<text x="1218.3" y="110.0" font-size="10.7" fill="#555" textLength="34.3" lengthAdjust="spacingAndGlyphs">50.00%</text>
<text x="1218.3" y="149.0" font-size="10.7" fill="#555" textLength="34.3" lengthAdjust="spacingAndGlyphs">40.00%</text>
<text x="1218.3" y="187.0" font-size="10.7" fill="#555" textLength="34.3" lengthAdjust="spacingAndGlyphs">30.00%</text>
<text x="1218.3" y="226.0" font-size="10.7" fill="#555" textLength="34.3" lengthAdjust="spacingAndGlyphs">20.00%</text>
<text x="1218.3" y="264.0" font-size="10.7" fill="#555" textLength="34.3" lengthAdjust="spacingAndGlyphs">10.00%</text>
<text x="1218.3" y="303.0" font-size="10.7" fill="#555" textLength="28.7" lengthAdjust="spacingAndGlyphs">0.00%</text>
<text x="1218.3" y="341.0" font-size="10.7" fill="#555" textLength="39.7" lengthAdjust="spacingAndGlyphs">−10.00%</text>
<text x="1218.3" y="380.0" font-size="10.7" fill="#555" textLength="39.7" lengthAdjust="spacingAndGlyphs">−20.00%</text>
<text x="1218.3" y="418.0" font-size="10.7" fill="#555" textLength="39.7" lengthAdjust="spacingAndGlyphs">−30.00%</text>
<text x="1218.3" y="457.0" font-size="10.7" fill="#555" textLength="39.7" lengthAdjust="spacingAndGlyphs">−40.00%</text>
<rect x="1224.5" y="50.5" width="27" height="17" rx="3" fill="#fff" stroke="#d5d7dd"/>
<text x="1228.9" y="62.6" font-size="9.8" fill="#444" textLength="18.5" lengthAdjust="spacingAndGlyphs">USD</text>
<text x="51.1" y="483.6" font-size="11.4" fill="#4a4a4a" text-anchor="middle">Okt</text>
<text x="129.1" y="483.6" font-size="11.4" fill="#4a4a4a" text-anchor="middle">4</text>
<text x="262.1" y="483.6" font-size="11.4" fill="#4a4a4a" text-anchor="middle" font-weight="bold" textLength="22.6" lengthAdjust="spacingAndGlyphs">2020</text>
<text x="398.1" y="483.6" font-size="11.4" fill="#4a4a4a" text-anchor="middle">Mrz</text>
<text x="537.1" y="483.6" font-size="11.4" fill="#4a4a4a" text-anchor="middle">Mai</text>
<text x="676.1" y="483.6" font-size="11.4" fill="#4a4a4a" text-anchor="middle">Jul</text>
<text x="816.1" y="483.6" font-size="11.4" fill="#4a4a4a" text-anchor="middle">Sep</text>
<text x="958.1" y="483.6" font-size="11.4" fill="#4a4a4a" text-anchor="middle">Nov</text>
<text x="1098.1" y="483.6" font-size="11.4" fill="#4a4a4a" text-anchor="middle" font-weight="bold" textLength="22.6" lengthAdjust="spacingAndGlyphs">2021</text>
<text x="15.2" y="64.5" font-size="11" fill="#4f4f4f" textLength="97.8" lengthAdjust="spacingAndGlyphs">XAGUSD, OANDA</text>
<text y="16.8" font-size="11.6" fill="#1c1c1c"><tspan x="6.3" textLength="76.4" lengthAdjust="spacingAndGlyphs">Veröffentlicht</tspan> <tspan x="87.9" textLength="16.5" lengthAdjust="spacingAndGlyphs">auf</tspan> <tspan x="108.3" textLength="101.3" lengthAdjust="spacingAndGlyphs">TradingView.com,</tspan> <tspan x="215.1" textLength="40.8" lengthAdjust="spacingAndGlyphs">Februar</tspan> <tspan x="262.2" textLength="14.9" lengthAdjust="spacingAndGlyphs">10,</tspan> <tspan x="282.6" textLength="25.1" lengthAdjust="spacingAndGlyphs">2021</tspan> <tspan x="314.0" textLength="47.1" lengthAdjust="spacingAndGlyphs">21:54:25</tspan> <tspan x="366.6" textLength="18.8" lengthAdjust="spacingAndGlyphs">CET</tspan></text>
<text x="6.3" y="33.7" font-size="11.6" fill="#1c1c1c" font-weight="bold" textLength="115.4" lengthAdjust="spacingAndGlyphs">OANDA:XPTUSD, 1D</text>
<text x="128.7" y="33.7" font-size="11.6" fill="#1c1c1c" textLength="51.8" lengthAdjust="spacingAndGlyphs">1241.700</text>
<path d="M184,33.7 L194.3,33.7 L189.15,25.1 Z" fill="#26a69a"/>
<text x="198.7" y="33.7" font-size="11.6" fill="#1c1c1c" textLength="44.3" lengthAdjust="spacingAndGlyphs">+58.700</text>
<text x="248.2" y="33.7" font-size="11.6" fill="#1c1c1c" textLength="48.4" lengthAdjust="spacingAndGlyphs">(+4.96%)</text>
<text x="301.4" y="33.7" font-size="11.6" fill="#1c1c1c" font-weight="bold" textLength="11.6" lengthAdjust="spacingAndGlyphs">O:</text>
<text x="316.4" y="33.7" font-size="11.6" fill="#26a69a" textLength="51.0" lengthAdjust="spacingAndGlyphs">1183.000</text>
<text x="372.8" y="33.7" font-size="11.6" fill="#1c1c1c" font-weight="bold" textLength="11.2" lengthAdjust="spacingAndGlyphs">H:</text>
<text x="387.3" y="33.7" font-size="11.6" fill="#26a69a" textLength="50.9" lengthAdjust="spacingAndGlyphs">1253.851</text>
<text x="443.8" y="33.7" font-size="11.6" fill="#1c1c1c" font-weight="bold" textLength="8.5" lengthAdjust="spacingAndGlyphs">L:</text>
<text x="454.7" y="33.7" font-size="11.6" fill="#26a69a" textLength="51.3" lengthAdjust="spacingAndGlyphs">1183.000</text>
<text x="511.2" y="33.7" font-size="11.6" fill="#1c1c1c" font-weight="bold" textLength="9.8" lengthAdjust="spacingAndGlyphs">C:</text>
<text x="523.8" y="33.7" font-size="11.6" fill="#26a69a" textLength="51.5" lengthAdjust="spacingAndGlyphs">1241.700</text>
<g transform="translate(5.8,503)">
<g fill="#2196f3"><circle cx="4.6" cy="10.3" r="4.6"/><circle cx="11.8" cy="5.6" r="5.6"/><circle cx="20" cy="7.3" r="3.9"/><circle cx="22" cy="10.7" r="4.2"/><rect x="4.6" y="7.5" width="17.4" height="7.4"/></g>
<path d="M0.2,13 L10.6,4.7 L16,11.7 L23.8,3.6" fill="none" stroke="#fff" stroke-width="1.3" stroke-linejoin="round"/>
<circle cx="16" cy="11.6" r="1.3" fill="#fff"/>
</g>
<text x="34.4" y="515" font-size="12.4" fill="#222" textLength="70.1" lengthAdjust="spacingAndGlyphs">TradingView</text>
</svg></body></html>
